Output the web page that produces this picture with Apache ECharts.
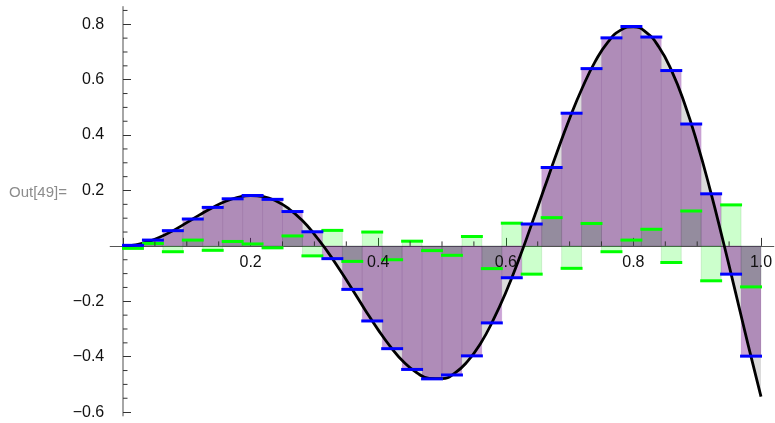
<!DOCTYPE html>
<html>
<head>
<meta charset="utf-8">
<script src="https://cdn.jsdelivr.net/npm/echarts@6/dist/echarts.min.js"></script>
<style>
  html, body { margin: 0; padding: 0; background: #ffffff; }
  #chart { width: 775px; height: 423px; }
</style>
</head>
<body>
<div id="chart"></div>
<script>
// Sampled curve f(x)
const curveX = [0, 0.02, 0.04, 0.06, 0.08, 0.10, 0.12, 0.14, 0.16, 0.18,
  0.20, 0.22, 0.24, 0.26, 0.28, 0.30, 0.32, 0.34, 0.36, 0.38,
  0.40, 0.42, 0.44, 0.46, 0.48, 0.50, 0.52, 0.54, 0.56, 0.58,
  0.60, 0.62, 0.64, 0.66, 0.68, 0.70, 0.72, 0.74, 0.76, 0.78,
  0.80, 0.82, 0.84, 0.86, 0.88, 0.90, 0.92, 0.94, 0.96, 0.98, 1.00];
const curveY = [0, 0.004, 0.016, 0.034, 0.057, 0.084, 0.112, 0.138, 0.160, 0.175,
  0.182, 0.178, 0.162, 0.134, 0.094, 0.042, -0.019, -0.087, -0.159, -0.233,
  -0.303, -0.366, -0.419, -0.457, -0.478, -0.479, -0.459, -0.417, -0.354, -0.269,
  -0.168, -0.052, 0.075, 0.206, 0.336, 0.460, 0.571, 0.665, 0.736, 0.779,
  0.791, 0.771, 0.718, 0.632, 0.515, 0.371, 0.205, 0.023, -0.167, -0.359, -0.544];

// 32 equal bins on [0, 1]
const binCount = 32;
// Bin (midpoint) values — blue steps
const stepValues = [0.002, 0.021, 0.055, 0.097, 0.139, 0.170, 0.182, 0.168,
  0.124, 0.051, -0.046, -0.157, -0.271, -0.371, -0.446, -0.480,
  -0.466, -0.397, -0.278, -0.115, 0.079, 0.283, 0.479, 0.640,
  0.751, 0.792, 0.754, 0.633, 0.440, 0.188, -0.102, -0.398];
// Pairwise detail values — green steps
const detailValues = [-0.009, 0.009, -0.021, 0.021, -0.016, 0.016, 0.007, -0.007,
  0.036, -0.036, 0.056, -0.056, 0.050, -0.050, 0.017, -0.017,
  -0.034, 0.034, -0.082, 0.082, -0.102, 0.102, -0.081, 0.081,
  -0.021, 0.021, 0.060, -0.060, 0.126, -0.126, 0.148, -0.148];

// Axis ticks
const xMajorTicks = [0, 0.2, 0.4, 0.6, 0.8, 1.0];
const xTickLabels = [0.2, 0.4, 0.6, 0.8, 1.0];
const xMinorTicks = [0.05, 0.1, 0.15, 0.25, 0.3, 0.35, 0.45, 0.5, 0.55, 0.65, 0.7, 0.75, 0.85, 0.9, 0.95];
const yMajorTicks = [-0.6, -0.4, -0.2, 0, 0.2, 0.4, 0.6, 0.8];
const yTickLabels = [-0.6, -0.4, -0.2, 0.2, 0.4, 0.6, 0.8];
const yMinorTicks = [-0.55, -0.5, -0.45, -0.35, -0.3, -0.25, -0.15, -0.1, -0.05,
  0.05, 0.1, 0.15, 0.25, 0.3, 0.35, 0.45, 0.5, 0.55, 0.65, 0.7, 0.75, 0.85];

const X_MIN = -0.02, X_MAX = 1.02;
const Y_MIN = -0.613, Y_MAX = 0.8635;

const FONT = '"Liberation Sans", Arial, sans-serif';
const fmt = v => (v < 0 ? '\u2212' : '') + Math.abs(v).toFixed(1);
const TICK_COLOR = '#333';

function binData(values) {
  return values.map((v, k) => [k / binCount, (k + 1) / binCount, v]);
}

function fillRenderer(fill, stroke) {
  return function (params, api) {
    const a = api.coord([api.value(0), 0]);
    const b = api.coord([api.value(1), api.value(2)]);
    return {
      type: 'rect',
      shape: { x: a[0], y: Math.min(a[1], b[1]), width: b[0] - a[0], height: Math.abs(b[1] - a[1]) },
      style: { fill: fill, stroke: stroke, lineWidth: 0.8 }
    };
  };
}

function topRenderer(color) {
  return function (params, api) {
    const a = api.coord([api.value(0), api.value(2)]);
    const b = api.coord([api.value(1), api.value(2)]);
    return {
      type: 'line',
      shape: { x1: a[0] - 1, y1: a[1], x2: b[0] + 1, y2: b[1] },
      style: { stroke: color, lineWidth: 3, lineCap: 'butt' }
    };
  };
}

// Short minor tick marks, pointing into the plot from each axis line
function minorTickRenderer(dx, dy) {
  return function (params, api) {
    const p = api.coord([api.value(0), api.value(1)]);
    return {
      type: 'line',
      shape: { x1: p[0], y1: p[1], x2: p[0] + dx, y2: p[1] + dy },
      style: { stroke: TICK_COLOR, lineWidth: 1 }
    };
  };
}

// Tick labels under the horizontal axis (which sits on y = 0)
function xLabelRenderer(params, api) {
  const p = api.coord([api.value(0), 0]);
  return {
    type: 'text',
    x: p[0], y: p[1] + 16.5,
    style: { text: fmt(api.value(0)), fill: '#111', font: '16px ' + FONT, align: 'center', verticalAlign: 'middle' }
  };
}

const curveData = curveX.map((x, i) => [x, curveY[i]]);

const chart = echarts.init(document.getElementById('chart'), null, { renderer: 'canvas' });
chart.setOption({
  animation: false,
  backgroundColor: '#ffffff',
  grid: { left: 110.24, right: 1.24, top: 6.7, bottom: 7.3, containLabel: false, outerBoundsMode: 'none' },
  graphic: [{
    type: 'text', left: 9, top: 185,
    style: { text: 'Out[49]=', fill: '#8c8c8c', font: '15px ' + FONT }
  }],
  xAxis: {
    type: 'value', min: X_MIN, max: X_MAX,
    axisLine: { onZero: true, lineStyle: { color: '#555', width: 1.2 } },
    axisTick: { show: true, inside: true, length: 8, customValues: xMajorTicks, lineStyle: { color: TICK_COLOR, width: 1 } },
    axisLabel: { show: false },
    splitLine: { show: false }
  },
  yAxis: {
    type: 'value', min: Y_MIN, max: Y_MAX, position: 'left',
    axisLine: { onZero: true, lineStyle: { color: '#888', width: 1.5 } },
    axisTick: { show: true, inside: true, length: 8, customValues: yMajorTicks, lineStyle: { color: TICK_COLOR, width: 1 } },
    axisLabel: { customValues: yTickLabels, formatter: fmt, margin: 6, fontSize: 16, color: '#111', fontFamily: FONT },
    splitLine: { show: false }
  },
  series: [
    {
      name: 'detailFill', type: 'custom', z: 1, data: binData(detailValues),
      encode: { x: [0, 1], y: 2 },
      renderItem: fillRenderer('rgba(0,255,0,0.2)', 'rgba(0,110,0,0.15)')
    },
    {
      name: 'stepFill', type: 'custom', z: 2, data: binData(stepValues),
      encode: { x: [0, 1], y: 2 },
      renderItem: fillRenderer('rgba(127,27,155,0.4)', 'rgba(90,0,120,0.1)')
    },
    {
      name: 'curveFill', type: 'line', data: curveData, smooth: true, showSymbol: false, z: 3,
      lineStyle: { width: 0 }, areaStyle: { color: 'rgba(0,0,0,0.2)', origin: 'auto' }
    },
    {
      name: 'curve', type: 'line', data: curveData, smooth: true, showSymbol: false, z: 4,
      lineStyle: { color: '#000', width: 2.8 }
    },
    {
      name: 'detailTop', type: 'custom', z: 5, data: binData(detailValues),
      encode: { x: [0, 1], y: 2 },
      renderItem: topRenderer('#00ff00')
    },
    {
      name: 'stepTop', type: 'custom', z: 6, data: binData(stepValues),
      encode: { x: [0, 1], y: 2 },
      renderItem: topRenderer('#0000ff')
    },
    {
      name: 'xMinorTicks', type: 'custom', z: 7, silent: true,
      data: xMinorTicks.map(v => [v, 0]), encode: { x: 0, y: 1 },
      renderItem: minorTickRenderer(0, -4.5)
    },
    {
      name: 'yMinorTicks', type: 'custom', z: 7, silent: true,
      data: yMinorTicks.map(v => [0, v]), encode: { x: 0, y: 1 },
      renderItem: minorTickRenderer(4.5, 0)
    },
    {
      name: 'xTickLabels', type: 'custom', z: 8, silent: true, clip: false,
      data: xTickLabels.map(v => [v, 0]), encode: { x: 0, y: 1 },
      renderItem: xLabelRenderer
    }
  ]
});
</script>
</body>
</html>
